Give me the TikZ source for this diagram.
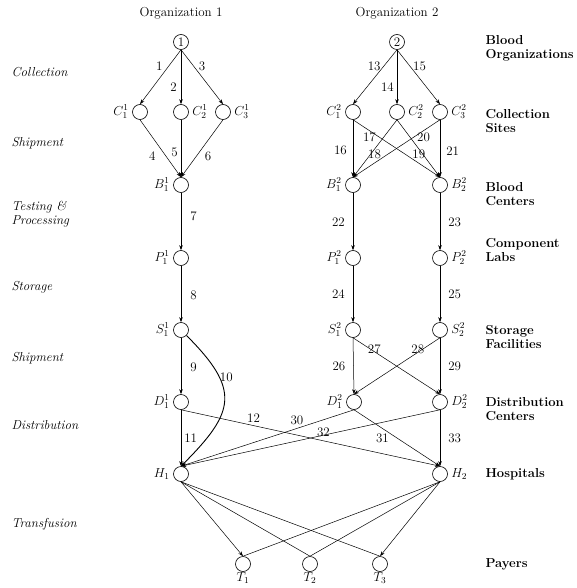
\RequirePackage{fix-cm}
\documentclass[tikz,border=0pt]{standalone}
\usepackage{tikz}
\usetikzlibrary{arrows.meta,positioning}
\begin{document}
\begin{tikzpicture}[>={Stealth[length=5pt,width=3.5pt]},x=1pt,y=-1pt,font=\fontsize{13}{14}\selectfont]
        \tikzstyle{facility}=[circle,draw=black,line width=0.6pt,minimum size=15pt,inner sep=0pt]
        \tikzstyle{edge}=[draw,->,line width=0.5pt]
        \tikzstyle{link}=[draw,-,line width=0.5pt]
        \tikzstyle{flow}=[inner sep=3pt]
        \tikzstyle{stage}=[anchor=west,align=left,font=\fontsize{13}{14}\selectfont\itshape]
        \tikzstyle{tier}=[anchor=west,align=left,font=\fontsize{13}{14}\selectfont\bfseries]
        \useasboundingbox (0,0) rectangle (576,588);
        % organizations
        \node (org1) at (181,13) {Organization 1};
        \node (org2) at (397,13) {Organization 2};
        \node [facility] (o1) at (181,42) {1};
        \node [facility] (o2) at (397,42) {2};
        % collection sites
        \node [facility,label={left:$C^1_1$}] (c11) at (140,112) {};
        \node [facility,label={right:$C^1_2$}] (c12) at (181,112) {};
        \node [facility,label={right:$C^1_3$}] (c13) at (223,112) {};
        \node [facility,label={left:$C^2_1$}] (c21) at (353,112) {};
        \node [facility,label={right:$C^2_2$}] (c22) at (397,112) {};
        \node [facility,label={right:$C^2_3$}] (c23) at (440,112) {};
        % blood centers, labs, storage
        \node [facility,label={left:$B^1_1$}] (b11) at (181,185) {};
        \node [facility,label={left:$B^2_1$}] (b21) at (353,185) {};
        \node [facility,label={right:$B^2_2$}] (b22) at (440,185) {};
        \node [facility,label={left:$P^1_1$}] (p11) at (181,258) {};
        \node [facility,label={left:$P^2_1$}] (p21) at (353,258) {};
        \node [facility,label={right:$P^2_2$}] (p22) at (440,258) {};
        \node [facility,label={left:$S^1_1$}] (s11) at (181,330) {};
        \node [facility,label={left:$S^2_1$}] (s21) at (353,330) {};
        \node [facility,label={right:$S^2_2$}] (s22) at (440,330) {};
        % distribution, hospitals, payers
        \node [facility,label={left:$D^1_1$}] (d11) at (181,402) {};
        \node [facility,label={left:$D^2_1$}] (d21) at (354,402) {};
        \node [facility,label={right:$D^2_2$}] (d22) at (440,402) {};
        \node [facility,label={left:$H_1$}] (h1) at (181,474) {};
        \node [facility,label={right:$H_2$}] (h2) at (440,474) {};
        \node [facility,label={[inner sep=1pt]below:$T_1$}] (t1) at (243,564) {};
        \node [facility,label={[inner sep=1pt]below:$T_2$}] (t2) at (310,564) {};
        \node [facility,label={[inner sep=1pt]below:$T_3$}] (t3) at (380,564) {};
        % stages
        \node [stage] (st1) at (8,72) {Collection};
        \node [stage] (st2) at (8,143) {Shipment};
        \node [stage] (st3) at (8,214) {Testing \&\\Processing};
        \node [stage] (st4) at (8,287) {Storage};
        \node [stage] (st5) at (8,358) {Shipment};
        \node [stage] (st6) at (8,425) {Distribution};
        \node [stage] (st7) at (8,524) {Transfusion};
        % tiers
        \node [tier] (tr1) at (482,48) {Blood\\Organizations};
        \node [tier] (tr2) at (482,121) {Collection\\Sites};
        \node [tier] (tr3) at (482,194) {Blood\\Centers};
        \node [tier] (tr4) at (482,250) {Component\\Labs};
        \node [tier] (tr5) at (482,337) {Storage\\Facilities};
        \node [tier] (tr6) at (482,409) {Distribution\\Centers};
        \node [tier] (tr7) at (482,474) {Hospitals};
        \node [tier] (tr8) at (482,564) {Payers};
        % organization 1
        \path (o1.south) edge[edge] node[flow,pos=0.3,left=3pt] {1} (c11.north);
        \path (o1.south) edge[edge] node[flow,pos=0.68,left=1pt] {2} (c12.north);
        \path (o1.south) edge[edge] node[flow,pos=0.3,right=2pt] {3} (c13.north);
        \path (c11.south) edge[edge] node[flow,pos=0.63,left=7pt] {4} (b11.north);
        \path (c12.south) edge[edge] node[flow,pos=0.56,left] {5} (b11.north);
        \path (c13.south) edge[edge] node[flow,pos=0.63,right=5pt] {6} (b11.north);
        \path (b11.south) edge[edge] node[flow,pos=0.4,right=6pt] {7} (p11.north);
        \path (p11.south) edge[edge] node[flow,pos=0.52,right=6pt] {8} (s11.north);
        \path (s11.south) edge[edge] node[flow,pos=0.52,right=6pt] {9} (d11.north);
        \path (s11) edge[edge,line width=0.9pt,out=-45,in=45,looseness=1.5] node[flow,pos=0.3,right=-3pt] {10} (h1.north);
        \path (d11.south) edge[edge] node[flow,pos=0.5,right] {11} (h1.north);
        \path (d11.south) edge[edge] node[flow,pos=0.28,above] {12} (h2.north);
        % organization 2
        \path (o2.south) edge[edge] node[flow,pos=0.3,left] {13} (c21.north);
        \path (o2.south) edge[edge] node[flow,pos=0.68,left] {14} (c22.north);
        \path (o2.south) edge[edge] node[flow,pos=0.3,right] {15} (c23.north);
        \path (c21.south) edge[edge] node[flow,pos=0.54,left=3pt] {16} (b21.north);
        \path (c21.south) edge[edge] node[flow,pos=0.3,left] {17} (b22.north);
        \path (c22.south) edge[edge] node[flow,pos=0.6,xshift=4pt] {18} (b21.north);
        \path (c22.south) edge[edge] node[flow,pos=0.6,xshift=-4pt] {19} (b22.north);
        \path (c23.south) edge[edge] node[flow,pos=0.3,right] {20} (b21.north);
        \path (c23.south) edge[edge] node[flow,pos=0.54,right=3pt] {21} (b22.north);
        \path (b21.south) edge[edge] node[flow,pos=0.52,left=5pt] {22} (p21.north);
        \path (b22.south) edge[edge] node[flow,pos=0.52,right=5pt] {23} (p22.north);
        \path (p21.south) edge[edge] node[flow,pos=0.5,left=5pt] {24} (s21.north);
        \path (p22.south) edge[edge] node[flow,pos=0.5,right=5pt] {25} (s22.north);
        \path (s21.south) edge[edge] node[flow,pos=0.5,left=5pt] {26} (d21.north);
        \path (s21.south) edge[edge] node[flow,pos=0.21,xshift=3pt] {27} (d22.north);
        \path (s22.south) edge[edge] node[flow,pos=0.2,xshift=-5pt] {28} (d21.north);
        \path (s22.south) edge[edge] node[flow,pos=0.5,right=5pt] {29} (d22.north);
        \path (d21.south) edge[edge] node[flow,pos=0.33,above] {30} (h1.north);
        \path (d21.south) edge[edge] node[flow,pos=0.5,left=5pt] {31} (h2.north);
        \path (d22.south) edge[edge] node[flow,pos=0.45,yshift=3pt] {32} (h1.north);
        \path (d22.south) edge[edge] node[flow,pos=0.5,right=5pt] {33} (h2.north);
        % transfusion
        \path (h1.south) edge[edge] (t1.north);
        \path (h1.south) edge[link] (t2.north);
        \path (h1.south) edge[link] (t3.north);
        \path (h2.south) edge[link] (t1.north);
        \path (h2.south) edge[link] (t2.north);
        \path (h2.south) edge[edge] (t3.north);
\end{tikzpicture}
\end{document}
